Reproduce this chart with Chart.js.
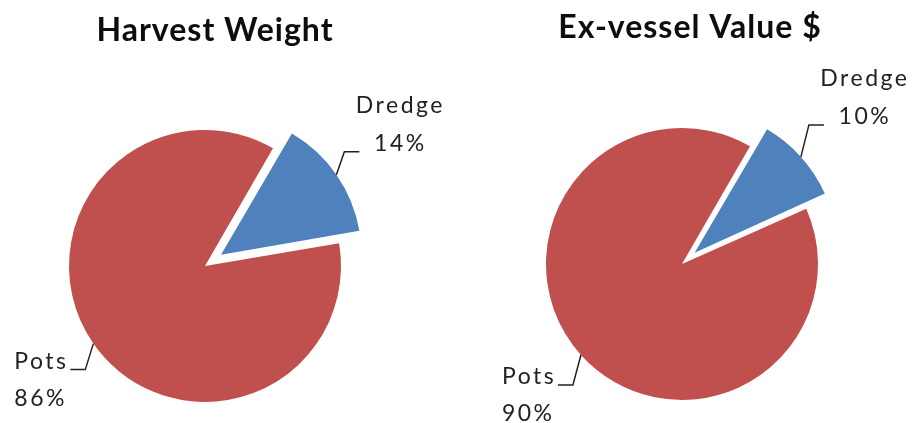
<!DOCTYPE html>
<html>
<head>
<meta charset="utf-8">
<script src="https://cdn.jsdelivr.net/npm/chart.js@4.4.1/dist/chart.umd.min.js"></script>
<style>
  html, body { margin: 0; padding: 0; background: #fff; }
  .row { display: flex; width: 914px; height: 423px; }
  .cell { position: relative; width: 457px; height: 423px; }
</style>
</head>
<body>
<div class="row">
  <div class="cell"><canvas id="weightChart"></canvas></div>
  <div class="cell"><canvas id="valueChart"></canvas></div>
</div>
<script>
// data
const gears = ['Dredge', 'Pots'];
const weightShare = [14, 86];
const valueShare = [10, 90];
const chartTitles = ['Harvest Weight', 'Ex-vessel Value $'];
const sliceColors = ['#4F81BD', '#C0504D'];

// how far the dredge slice is pulled out, in px
const EXPLODE = 24;

// chart.js divides offset by 4 and adds a small extra push for thin slices,
// so work backwards to get a plain pixel shift
function explodeOffset(ctx) {
  if (ctx.dataIndex !== 0) return 0;
  const vals = ctx.dataset.data;
  const total = vals.reduce((a, b) => a + b, 0);
  const circ = 2 * Math.PI * vals[0] / total;
  const fix = 1 - Math.sin(Math.min(Math.PI, circ));
  return EXPLODE * 4 / (1 + fix);
}

const pieLabels = {
  id: 'pieLabels',
  afterDatasetsDraw(chart, args, opts) {
    const ctx = chart.ctx;
    const meta = chart.getDatasetMeta(0);
    const values = chart.data.datasets[0].data;
    const total = values.reduce((a, b) => a + b, 0);

    ctx.save();
    // title
    ctx.font = 'bold 32px Lato';
    ctx.fillStyle = '#0d0d0d';
    ctx.letterSpacing = '1px';
    ctx.textAlign = 'center';
    ctx.textBaseline = 'alphabetic';
    ctx.fillText(opts.title, opts.titleX, opts.titleY);

    meta.data.forEach((arc, i) => {
      const p = arc.getProps(['x', 'y', 'startAngle', 'endAngle', 'outerRadius'], true);
      const mid = (p.startAngle + p.endAngle) / 2;
      const off = (arc.options.offset || 0) / 4;
      const fix = 1 - Math.sin(Math.min(Math.PI, p.endAngle - p.startAngle));
      const r = p.outerRadius + off * (1 + fix);
      const px = p.x + Math.cos(mid) * r;
      const py = p.y + Math.sin(mid) * r;
      const right = Math.cos(mid) >= 0;
      const dir = right ? 1 : -1;
      const kx = px + dir * 8;
      const ky = py + opts.rise[i];
      const ex = kx + dir * 15;

      ctx.strokeStyle = '#222';
      ctx.lineWidth = 1.5;
      ctx.beginPath();
      ctx.moveTo(px, py);
      ctx.lineTo(kx, ky);
      ctx.lineTo(ex, ky);
      ctx.stroke();

      const pct = Math.round(values[i] / total * 100) + '%';
      ctx.font = '23px Lato';
      ctx.fillStyle = '#222';
      ctx.letterSpacing = '2.5px';
      ctx.textBaseline = 'middle';
      if (right) {
        ctx.textAlign = 'center';
        ctx.fillText(chart.data.labels[i], ex + 41, ky - 46);
        ctx.fillText(pct, ex + 41, ky - 8);
      } else {
        ctx.textAlign = 'left';
        ctx.fillText(chart.data.labels[i], ex - 56, ky - 8);
        ctx.fillText(pct, ex - 56, ky + 29);
      }
    });
    ctx.restore();
  }
};

function makePie(id, values, title, look) {
  return new Chart(document.getElementById(id), {
    type: 'pie',
    data: {
      labels: gears,
      datasets: [{
        data: values,
        backgroundColor: sliceColors,
        borderWidth: 0,
        offset: explodeOffset,
        radius: 136
      }]
    },
    options: {
      responsive: true,
      maintainAspectRatio: false,
      animation: false,
      rotation: 30,
      layout: { padding: look.padding },
      plugins: {
        legend: { display: false },
        tooltip: { enabled: false },
        pieLabels: {
          title: title,
          titleX: look.titleX,
          titleY: look.titleY,
          rise: look.rise
        }
      }
    },
    plugins: [pieLabels]
  });
}

makePie('weightChart', weightShare, chartTitles[0], {
  padding: { left: 0, right: 47, top: 109, bottom: 0 },
  titleX: 215, titleY: 41, rise: [-23, 26]
});
makePie('valueChart', valueShare, chartTitles[1], {
  padding: { left: 0, right: 7, top: 105, bottom: 0 },
  titleX: 233, titleY: 38, rise: [-32, 30]
});
</script>
</body>
</html>
